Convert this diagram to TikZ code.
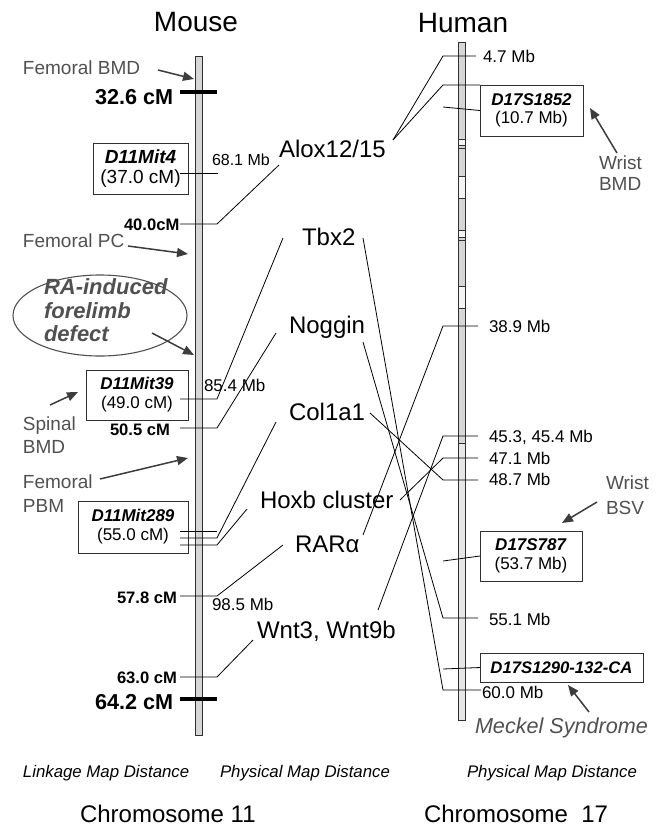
\documentclass[tikz,border=0pt]{standalone}
\usepackage{fontspec}
\setmainfont{Liberation Sans}
\usetikzlibrary{arrows.meta,shapes.geometric}
\definecolor{anncol}{HTML}{505050}
\definecolor{arrcol}{HTML}{3C3C3C}
\definecolor{barfill}{HTML}{D6D6D6}
\definecolor{barlight}{HTML}{E6E6E6}
\definecolor{bandwhite}{HTML}{F4F4F4}
\definecolor{barline}{HTML}{303030}
\newcommand{\myfs}[1]{\fontsize{#1}{#1}\selectfont}
\newcommand{\myfsb}[2]{\fontsize{#1}{#2}\selectfont}
\begin{document}
\begin{tikzpicture}[x=1pt,y=-1pt,
  every node/.style={inner sep=0pt,outer sep=0pt},
  tx/.style={anchor=base west},
  title/.style={anchor=base,font=\myfs{28}},
  gene/.style={tx,font=\myfs{24}},
  mb/.style={tx,font=\myfs{17}},
  cms/.style={tx,font=\bfseries\myfs{16.6}},
  cmbig/.style={tx,font=\bfseries\myfs{21.6}},
  ann/.style={tx,font=\myfs{19},text=anncol},
  foot/.style={tx,font=\itshape\myfs{16.8}},
  chrom/.style={tx,font=\myfs{24}},
  conn/.style={line width=0.8pt,black},
  pointer/.style={line width=1.5pt,draw=arrcol,-{Triangle[length=11pt,width=9pt]}},
  mbox/.style={draw=barline,line width=0.9pt,align=center},
  chrbar/.style={draw=barline,line width=0.9pt,fill=barfill},
  band/.style={draw=barline,line width=0.9pt,fill=bandwhite},
  thick tick/.style={line width=4pt,black}
]
\useasboundingbox (0,0) rectangle (663,827);

% ---------- titles ----------
\node[title] (tmouse) at (196,31) {Mouse};
\node[title] (thuman) at (463,32) {Human};

% ---------- chromosome bars ----------
\draw[chrbar] (195,56) rectangle (202,735);
\draw[chrbar] (458,42) rectangle (465,720);
\draw[band,fill=barlight] (458,443) rectangle (465,720);
% bands on human bar
\foreach \a/\b in {139/145,176/198,230/237,286/308}{
  \draw[band] (458,\a) rectangle (465,\b);
}
\draw[draw=barline,line width=0.9pt] (458,148) -- (465,148);
\draw[draw=barline,line width=0.9pt] (458,240) -- (465,240);

% ---------- mouse ticks ----------
\coordinate (m326a) at (180,92);  \coordinate (m326b) at (217,92);
\coordinate (m642a) at (180,699); \coordinate (m642b) at (217,699);
\draw[thick tick] (m326a) -- (m326b);
\draw[thick tick] (m642a) -- (m642b);

% ---------- mouse labels ----------
\node[ann] (fbmd) at (23,74) {Femoral BMD};
\node[cmbig] (c326) at (95,104) {32.6 cM};
\node[mbox,font=\myfs{19},minimum width=95,minimum height=51] (d4) at (140.5,168.5)
  {\textbf{\textit{D11Mit4}}\\[1pt](37.0 cM)};
\node[mb,font=\myfs{16}] (mb681) at (212,165) {68.1 Mb};
\node[cms] (c400) at (124,230) {40.0cM};
\node[ann] (fpc) at (23,247) {Femoral PC};
\node[ellipse,draw=anncol,line width=1.1pt,minimum width=174,minimum height=81] (ell) at (100,315.5) {};
\node[anchor=north west,align=left,font=\bfseries\itshape\myfsb{22}{23.5},text=anncol] (ratext) at (44,279)
  {RA-induced\\forelimb\\defect};
\node[mbox,font=\myfs{17},minimum width=102,minimum height=50] (d39) at (137,395)
  {\textbf{\textit{D11Mit39}}\\[2pt](49.0 cM)};
\node[mb] (mb854) at (204,391) {85.4 Mb};
\node[ann] (spin1) at (23,430) {Spinal};
\node[ann] (spin2) at (23,453) {BMD};
\node[cms] (c505) at (110,435) {50.5 cM};
\node[ann] (fpbm1) at (23,488) {Femoral};
\node[ann] (fpbm2) at (23,512) {PBM};
\node[mbox,font=\myfs{17},minimum width=110,minimum height=52] (d289) at (133,527)
  {\textbf{\textit{D11Mit289}}\\[2pt](55.0 cM)};
\node[cms] (c578) at (117,603) {57.8 cM};
\node[mb] (mb985) at (212,610) {98.5 Mb};
\node[cms] (c630) at (117,683) {63.0 cM};
\node[cmbig] (c642) at (95,709) {64.2 cM};

% ---------- gene labels ----------
\node[gene] (alox) at (279,157) {Alox12/15};
\node[gene] (tbx) at (302,245) {Tbx2};
\node[gene] (nog) at (289,333) {Noggin};
\node[gene] (col) at (289,420) {Col1a1};
\node[gene] (hox) at (260,508) {Hoxb cluster};
\node[gene] (rar) at (295,552) {RARα};
\node[gene] (wnt) at (257,638) {Wnt3, Wnt9b};

% ---------- human labels ----------
\node[mb] (h47) at (483,62) {4.7 Mb};
\node[mbox,font=\myfs{17},minimum width=103,minimum height=51] (h1852) at (531.5,110.5)
  {\textbf{\textit{D17S1852}}\\[1pt](10.7 Mb)};
\node[ann] (wb1) at (599,169) {Wrist};
\node[ann] (wb2) at (599,190) {BMD};
\node[mb] (h389) at (489,332) {38.9 Mb};
\node[mb] (h453) at (489,442) {45.3, 45.4 Mb};
\node[mb] (h471) at (489,464) {47.1 Mb};
\node[mb] (h487) at (489,485) {48.7 Mb};
\node[ann] (wv1) at (606,489) {Wrist};
\node[ann] (wv2) at (606,514) {BSV};
\node[mbox,font=\myfs{17},minimum width=102,minimum height=50] (h787) at (531,556)
  {\textbf{\textit{D17S787}}\\[2pt](53.7 Mb)};
\node[mb] (h551) at (489,625) {55.1 Mb};
\node[mbox,font=\bfseries\itshape\myfs{16.7},minimum width=163,minimum height=29] (h1290) at (561.5,667.5)
  {D17S1290-132-CA};
\node[mb] (h600) at (482,698) {60.0 Mb};
\node[tx,font=\itshape\myfs{21.6},text=anncol] (meck) at (475,733) {Meckel Syndrome};

% ---------- footer ----------
\node[foot] (lmd) at (23,777) {Linkage Map Distance};
\node[foot] (pmd1) at (220,777) {Physical Map Distance};
\node[foot] (pmd2) at (467,777) {Physical Map Distance};
\node[chrom] (ch11) at (80,822) {Chromosome 11};
\node[chrom] (ch17) at (424,822) {Chromosome\ \ 17};

% ---------- mouse connectors ----------
\coordinate (k4a) at (180,173);  \coordinate (k4b) at (218,173);
\draw[conn] (k4a) -- (k4b);
\coordinate (k40a) at (180,224); \coordinate (k40b) at (217,224); \coordinate (aloxL) at (279,165);
\draw[conn] (k40a) -- (k40b) -- (aloxL);
\coordinate (k39a) at (180,399); \coordinate (k39b) at (217,399); \coordinate (tbxL) at (283,238);
\draw[conn] (k39a) -- (k39b) -- (tbxL);
\coordinate (k50a) at (180,428); \coordinate (k50b) at (217,428); \coordinate (nogL) at (276,333);
\draw[conn] (k50a) -- (k50b) -- (nogL);
\coordinate (k55a) at (180,531); \coordinate (k55b) at (217,531);
\draw[conn] (k55a) -- (k55b);
\coordinate (k55c) at (180,538); \coordinate (k55d) at (217,538); \coordinate (colL) at (276,422);
\draw[conn] (k55c) -- (k55d) -- (colL);
\coordinate (k55e) at (180,545); \coordinate (k55f) at (217,545); \coordinate (hoxL) at (247,509);
\draw[conn] (k55e) -- (k55f) -- (hoxL);
\coordinate (k57a) at (180,596); \coordinate (k57b) at (217,596); \coordinate (rarL) at (283,545);
\draw[conn] (k57a) -- (k57b) -- (rarL);
\coordinate (k63a) at (180,677); \coordinate (k63b) at (217,677); \coordinate (wntL) at (253,640);
\draw[conn] (k63a) -- (k63b) -- (wntL);

% ---------- human connectors ----------
\coordinate (aloxR) at (393,140);
\coordinate (h47a) at (443,56);  \coordinate (h47b) at (476,56);
\coordinate (h85a) at (443,85);
\draw[conn] (aloxR) -- (h47a) -- (h47b);
\draw[conn] (aloxR) -- (h85a) -- (h1852.north west);
\coordinate (h107a) at (443,107);
\draw[conn] (h107a) -- (h1852.west);
\coordinate (tbxR) at (363,238); \coordinate (h690a) at (443,690); \coordinate (h690b) at (481,690);
\draw[conn] (tbxR) -- (h690a) -- (h690b);
\coordinate (nogR) at (363,342); \coordinate (h618a) at (443,618); \coordinate (h618b) at (478,618);
\draw[conn] (nogR) -- (h618a) -- (h618b);
\coordinate (colR) at (370,413); \coordinate (h480a) at (443,480); \coordinate (h480b) at (478,480);
\draw[conn] (colR) -- (h480a) -- (h480b);
\coordinate (hoxR) at (400,500); \coordinate (h458a) at (443,458); \coordinate (h458b) at (478,458);
\draw[conn] (hoxR) -- (h458a) -- (h458b);
\coordinate (rarR) at (363,535); \coordinate (h326a) at (443,326); \coordinate (h326b) at (478,326);
\draw[conn] (rarR) -- (h326a) -- (h326b);
\coordinate (wntR) at (378,610); \coordinate (h436a) at (443,436); \coordinate (h436b) at (478,436);
\draw[conn] (wntR) -- (h436a) -- (h436b);
\coordinate (h561a) at (443,561);
\draw[conn] (h561a) -- (h787.west);
\coordinate (h669a) at (443,669);
\draw[conn] (h669a) -- (h1290.west);

% ---------- pointer arrows ----------
\coordinate (p1s) at (158,70);  \coordinate (p1e) at (194,79);
\draw[pointer] (p1s) -- (p1e);
\coordinate (p2s) at (128,246); \coordinate (p2e) at (188,254);
\draw[pointer] (p2s) -- (p2e);
\coordinate (p3s) at (152,333); \coordinate (p3e) at (194,355);
\draw[pointer] (p3s) -- (p3e);
\coordinate (p4s) at (50,405);  \coordinate (p4e) at (78,392);
\draw[pointer] (p4s) -- (p4e);
\coordinate (p5s) at (100,479); \coordinate (p5e) at (188,458);
\draw[pointer] (p5s) -- (p5e);
\coordinate (p6s) at (617,153); \coordinate (p6e) at (590,108);
\draw[pointer] (p6s) -- (p6e);
\coordinate (p7s) at (597,502); \coordinate (p7e) at (562,523);
\draw[pointer] (p7s) -- (p7e);
\coordinate (p8s) at (589,712); \coordinate (p8e) at (568,685);
\draw[pointer] (p8s) -- (p8e);
\end{tikzpicture}
\end{document}
